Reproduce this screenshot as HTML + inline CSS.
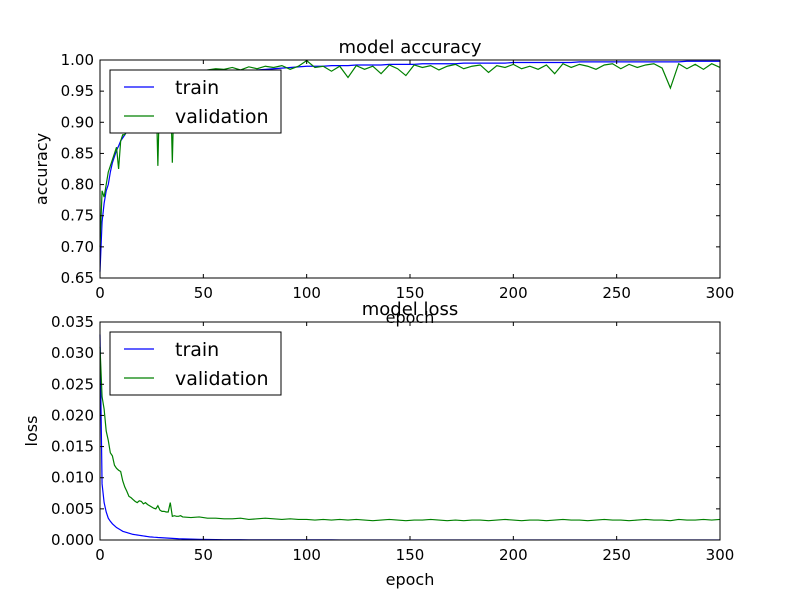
<!DOCTYPE html>
<html><head><meta charset="utf-8"><style>
body{margin:0;background:#fff}
svg{display:block;font-family:"DejaVu Sans","Liberation Sans",sans-serif}
</style></head><body>
<svg id="fig" width="800" height="600" viewBox="0 0 800 600"></svg>
<script>
const epochs=[0,1,2,3,4,5,6,7,8,9,10,11,12,13,14,15,16,17,18,19,20,21,22,23,24,25,26,27,28,29,30,31,32,33,34,35,36,37,38,39,40,
44,48,52,56,60,64,68,72,76,80,84,88,92,96,100,104,108,112,116,120,124,128,132,136,140,144,148,152,156,160,164,168,172,176,180,184,188,192,196,200,204,208,212,216,220,224,228,232,236,240,244,248,252,256,260,264,268,272,276,280,284,288,292,296,300];
const trainAcc=[0.66,0.74,0.77,0.79,0.80,0.82,0.835,0.845,0.855,0.862,0.87,0.875,0.88,0.885,0.89,0.895,0.90,0.905,0.91,0.915,0.92,0.923,0.926,0.93,0.933,0.936,0.94,0.942,0.944,0.946,0.948,0.95,0.952,0.954,0.956,0.958,0.96,0.962,0.964,0.966,0.968,
0.970,0.972,0.975,0.977,0.979,0.980,0.982,0.983,0.984,0.985,0.986,0.987,0.988,0.989,0.990,0.990,0.990,0.991,0.991,0.991,0.992,0.992,0.992,0.992,0.993,0.993,0.993,0.993,0.994,0.994,0.994,0.994,0.994,0.995,0.995,0.995,0.995,0.995,0.995,0.996,0.996,0.996,0.996,0.996,0.996,0.996,0.996,0.997,0.997,0.997,0.997,0.997,0.997,0.997,0.997,0.997,0.997,0.997,0.997,0.997,0.998,0.998,0.998,0.998,0.998];
const valAcc=[0.70,0.79,0.78,0.80,0.82,0.83,0.84,0.85,0.86,0.825,0.87,0.88,0.88,0.89,0.90,0.91,0.91,0.92,0.93,0.93,0.94,0.94,0.95,0.95,0.96,0.96,0.96,0.97,0.83,0.97,0.97,0.97,0.975,0.975,0.975,0.835,0.975,0.98,0.98,0.978,0.98,
0.982,0.978,0.984,0.986,0.985,0.988,0.984,0.989,0.986,0.990,0.988,0.991,0.985,0.990,0.999,0.988,0.990,0.982,0.990,0.972,0.991,0.985,0.990,0.978,0.992,0.986,0.975,0.992,0.988,0.991,0.984,0.990,0.993,0.986,0.990,0.992,0.980,0.991,0.988,0.993,0.986,0.990,0.985,0.992,0.978,0.994,0.988,0.993,0.990,0.985,0.992,0.994,0.986,0.993,0.988,0.992,0.994,0.987,0.955,0.994,0.986,0.993,0.985,0.994,0.988,0.990,0.986,0.994];
const trainLoss=[0.033,0.009,0.006,0.0045,0.0035,0.003,0.0026,0.0023,0.002,0.0018,0.0016,0.0014,0.0013,0.0012,0.0011,0.001,0.0009,0.00085,0.0008,0.00075,0.0007,0.00065,0.0006,0.00055,0.0005,0.00048,0.00045,0.00043,0.0004,0.00038,0.00036,0.00034,0.00032,0.0003,0.00028,0.00026,0.00024,0.00022,0.0002,0.00019,0.00018,
0.00014,0.0001,0.00008,0.00006,0.00005,0.00004,0.00004,0.00003,0.00003,0.00003,0.00002,0.00002,0.00002,0.00002,0.00002,0.00002,0.00002,0.00002,0.00001,0.00001,0.00001,0.00001,0.00001,0.00001,0.00001,0.00001,0.00001,0.00001,0.00001,0.00001,0.00001,0.00001,0.00001,0.00001,0.00001,0.00001,0.00001,0.00001,0.00001,0.00001,0.00001,0.00001,0.00001,0.00001,0.00001,0.00001,0.00001,0.00001,0.00001,0.00001,0.00001,0.00001,0.00001,0.00001,0.00001,0.00001,0.00001,0.00001,0.00001,0.00001,0.00001,0.00001,0.00001,0.00001,0.00001];
const valLoss=[0.031,0.023,0.021,0.0175,0.016,0.014,0.0135,0.012,0.0115,0.0112,0.011,0.0095,0.0085,0.0078,0.007,0.0068,0.0065,0.0062,0.006,0.0063,0.0062,0.0058,0.006,0.0057,0.0055,0.0053,0.0051,0.005,0.0055,0.0048,0.0046,0.0046,0.0045,0.0045,0.006,0.0038,0.0039,0.0038,0.0038,0.0039,0.0037,
0.0036,0.0037,0.0035,0.0035,0.0034,0.0034,0.0035,0.0033,0.0034,0.0035,0.0034,0.0033,0.0034,0.0033,0.0033,0.0032,0.0033,0.0032,0.0033,0.0032,0.0033,0.0032,0.0031,0.0032,0.0033,0.0032,0.0031,0.0032,0.0032,0.0033,0.0032,0.0031,0.0032,0.0031,0.0032,0.0032,0.0031,0.0032,0.0033,0.0032,0.0031,0.0032,0.0032,0.0031,0.0032,0.0033,0.0032,0.0032,0.0031,0.0032,0.0033,0.0032,0.0032,0.0031,0.0032,0.0033,0.0032,0.0032,0.0031,0.0033,0.0032,0.0032,0.0033,0.0032,0.0033];
const xTicks=[0,50,100,150,200,250,300];
const accTicks=[0.65,0.70,0.75,0.80,0.85,0.90,0.95,1.00];
const lossTicks=[0,0.005,0.010,0.015,0.020,0.025,0.030,0.035];

const NS="http://www.w3.org/2000/svg";
const svg=document.getElementById('fig');
function mk(tag,attrs,parent){const e=document.createElementNS(NS,tag);for(const k in attrs)e.setAttribute(k,attrs[k]);(parent||svg).appendChild(e);return e;}

function panel(name,top,bottom,ymin,ymax,yTicks,yDec,series,title,ylabel){
  const L=100,R=720;
  const g=mk('g',{});
  
  
  const xs=v=>L+(v-0)/(300-0)*(R-L);
  const ys=v=>bottom-(v-ymin)/(ymax-ymin)*(bottom-top);
  series.forEach(s=>{
    let d='';
    for(let i=0;i<epochs.length;i++){d+=(i?'L':'M')+xs(epochs[i]).toFixed(2)+','+ys(s.vals[i]).toFixed(2);}
    const p=mk('path',{d:d,fill:'none',stroke:s.color,'stroke-width':1.2},g);
    
    
  });
  const fr=mk('rect',{x:L,y:top,width:R-L,height:bottom-top,fill:'none',stroke:'#000','stroke-width':1},g);
  
  
  xTicks.forEach(t=>{
    const x=xs(t);
    mk('line',{x1:x,y1:bottom,x2:x,y2:bottom-4,stroke:'#000'},g);
    mk('line',{x1:x,y1:top,x2:x,y2:top+4,stroke:'#000'},g);
    const tx=mk('text',{x:x,y:bottom+20,'font-size':15,'text-anchor':'middle'},g);
    tx.textContent=t;
    
    
  });
  yTicks.forEach(t=>{
    const y=ys(t);
    mk('line',{x1:L,y1:y,x2:L+4,y2:y,stroke:'#000'},g);
    mk('line',{x1:R,y1:y,x2:R-4,y2:y,stroke:'#000'},g);
    const tx=mk('text',{x:L-6,y:y+5,'font-size':15,'text-anchor':'end'},g);
    tx.textContent=t.toFixed(yDec);
    
    
  });
  const tt=mk('text',{x:410,y:top-7,'font-size':18,'text-anchor':'middle'},g);
  tt.textContent=title;
  
  
  const xl=mk('text',{x:410,y:bottom+45,'font-size':16,'text-anchor':'middle'},g);
  xl.textContent='epoch';
  
  
  const yx=ylabel==='loss'?37:47;
  const yl=mk('text',{x:yx,y:(top+bottom)/2,'font-size':16,'text-anchor':'middle',transform:`rotate(-90 ${yx} ${(top+bottom)/2})`},g);
  yl.textContent=ylabel;
  
  
  const lg=mk('g',{},g);
  
  
  mk('rect',{x:110,y:top+10,width:171,height:63,fill:'#fff',stroke:'#000'},lg);
  [['train','#0000ff'],['validation','#008000']].forEach((e,i)=>{
    const yy=top+27+i*29;
    const le=mk('g',{},lg);
    
    
    mk('line',{x1:124,y1:yy,x2:154,y2:yy,stroke:e[1],'stroke-width':1.2},le);
    const t=mk('text',{x:175,y:yy+7,'font-size':19},le);
    t.textContent=e[0];
  });
}
panel('accuracy-chart',60,278,0.65,1.00,accTicks,2,[{name:'train-accuracy-line',vals:trainAcc,color:'#0000ff'},{name:'validation-accuracy-line',vals:valAcc,color:'#008000'}],'model accuracy','accuracy');
panel('loss-chart',322,540,0,0.035,lossTicks,3,[{name:'train-loss-line',vals:trainLoss,color:'#0000ff'},{name:'validation-loss-line',vals:valLoss,color:'#008000'}],'model loss','loss');
</script>
</body></html>
